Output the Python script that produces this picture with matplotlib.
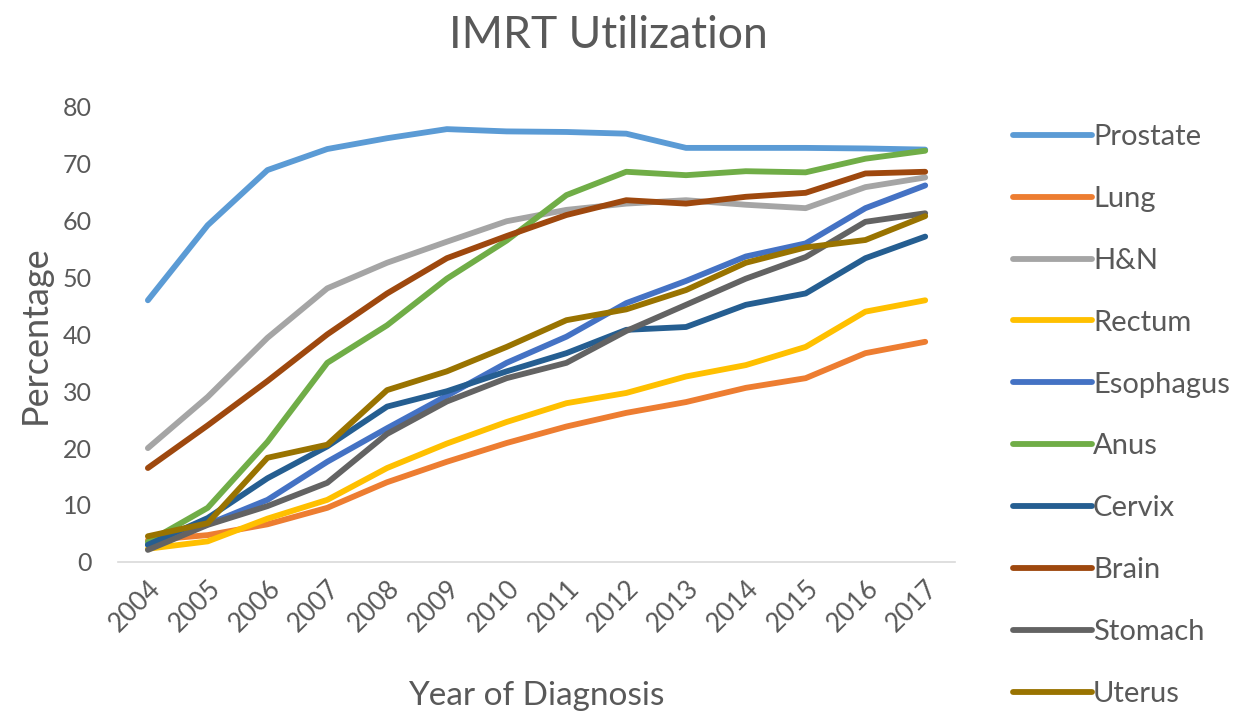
import matplotlib
matplotlib.use("Agg")
import matplotlib.pyplot as plt

plt.rcParams['font.family'] = ['Lato', 'DejaVu Sans']

years = [str(y) for y in range(2004, 2018)]

prostate  = [46.0, 59.2, 68.9, 72.6, 74.5, 76.1, 75.7, 75.6, 75.3, 72.8, 72.8, 72.8, 72.7, 72.5]
lung      = [3.8, 4.7, 6.6, 9.5, 14.0, 17.6, 20.9, 23.8, 26.2, 28.1, 30.6, 32.3, 36.7, 38.7]
hn        = [20.0, 29.0, 39.4, 48.1, 52.6, 56.3, 59.9, 61.9, 63.0, 63.6, 62.8, 62.2, 65.9, 67.6]
rectum    = [2.3, 3.6, 7.6, 10.9, 16.5, 20.8, 24.6, 27.9, 29.7, 32.6, 34.6, 37.8, 44.0, 46.0]
esophagus = [3.0, 6.6, 10.9, 17.6, 23.5, 29.2, 35.0, 39.6, 45.5, 49.4, 53.7, 56.0, 62.2, 66.2]
anus      = [3.5, 9.5, 21.1, 35.0, 41.6, 49.8, 56.5, 64.5, 68.6, 68.0, 68.7, 68.5, 70.9, 72.3]
cervix    = [3.0, 7.7, 14.7, 20.3, 27.3, 30.0, 33.5, 36.7, 40.8, 41.3, 45.2, 47.2, 53.4, 57.2]
brain     = [16.5, 24.0, 31.8, 40.0, 47.2, 53.4, 57.3, 61.0, 63.6, 63.0, 64.2, 64.9, 68.3, 68.6]
stomach   = [2.1, 6.5, 9.8, 13.9, 22.5, 28.2, 32.3, 35.0, 40.6, 45.2, 49.8, 53.6, 59.8, 61.3]
uterus    = [4.5, 6.8, 18.3, 20.6, 30.2, 33.5, 37.8, 42.5, 44.4, 47.8, 52.6, 55.3, 56.6, 60.8]

series = [
    ("Prostate", prostate, "#5B9BD5"),
    ("Lung", lung, "#ED7D31"),
    ("H&N", hn, "#A5A5A5"),
    ("Rectum", rectum, "#FFC000"),
    ("Esophagus", esophagus, "#4472C4"),
    ("Anus", anus, "#70AD47"),
    ("Cervix", cervix, "#255E91"),
    ("Brain", brain, "#9E480E"),
    ("Stomach", stomach, "#636363"),
    ("Uterus", uterus, "#997300"),
]

fig = plt.figure(figsize=(12.42, 7.13), dpi=100)
ax = fig.add_axes([0.095, 0.212, 0.674, 0.638])

x = list(range(len(years)))
for name, vals, col in series:
    ax.plot(x, vals, color=col, lw=4.2, label=name, solid_capstyle='round', solid_joinstyle='round')

ax.set_xlim(-0.5, len(years) - 0.5)
ax.set_ylim(0, 80)
ax.set_yticks(range(0, 81, 10))
ax.set_xticks(x)
ax.set_xticklabels(years, rotation=45, ha='right', rotation_mode='anchor')

txt = '#595959'
ax.tick_params(axis='both', length=0, colors=txt)
ax.tick_params(axis='y', pad=19, labelsize=18)
ax.tick_params(axis='x', pad=10, labelsize=19)
for s in ['top', 'right', 'left']:
    ax.spines[s].set_visible(False)
ax.spines['bottom'].set_color('#D9D9D9')
ax.spines['bottom'].set_linewidth(1.2)

ax.set_xlabel("Year of Diagnosis", fontsize=24, color=txt, labelpad=32)
ax.set_ylabel("Percentage", fontsize=26, color=txt, labelpad=8)
fig.text(0.49, 0.95, "IMRT Utilization", ha='center', va='center', fontsize=32, color=txt)

leg = ax.legend(loc='upper left', bbox_to_anchor=(1.055, 0.988), frameon=False,
                fontsize=21, handlelength=2.7, handletextpad=0.05,
                labelspacing=1.23, borderaxespad=0)
for t in leg.get_texts():
    t.set_color(txt)

fig.savefig("out.png", dpi=100, facecolor='white')
